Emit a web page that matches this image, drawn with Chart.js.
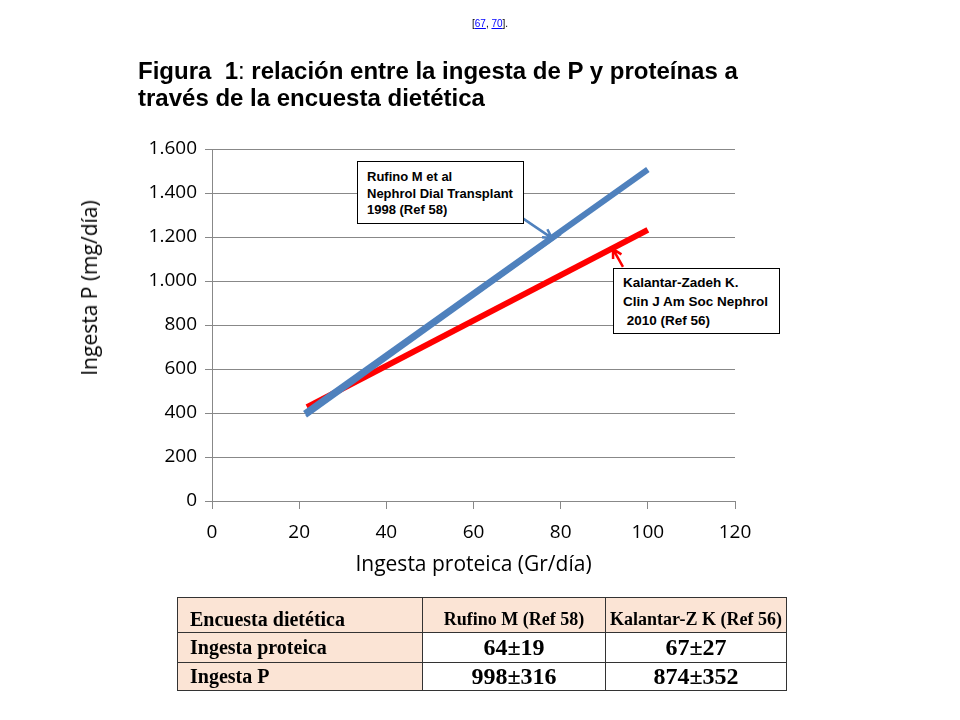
<!DOCTYPE html>
<html>
<head>
<meta charset="utf-8">
<script src="https://cdn.jsdelivr.net/npm/chart.js@4/dist/chart.umd.min.js"></script>
<style>
  body { margin: 0; background: #fff; width: 960px; height: 720px; position: relative; overflow: hidden; }
  #wrap { position: absolute; left: 0; top: 0; width: 960px; height: 720px; }
  .cite { position: absolute; left: 472px; top: 18px; font: 10px "Liberation Sans", Arial, sans-serif; color: #000; }
  .cite a { color: #00f; text-decoration: underline; }
  .title { position: absolute; left: 138px; top: 57px; font: bold 24px "Liberation Sans", Arial, sans-serif; line-height: 27px; color: #000; }
  .ytitle { position: absolute; left: 89px; top: 288px; transform: translate(-50%, -50%) rotate(-90deg); white-space: nowrap; font: 21px "Open Sans", sans-serif; color: #000; }
  .note { position: absolute; background: #fff; border: 1px solid #000; font: bold 13px "Liberation Sans", Arial, sans-serif; color: #000; box-sizing: border-box; }
  table { position: absolute; left: 177px; top: 597px; width: 610px; border-collapse: collapse; font-family: "Liberation Serif", "Times New Roman", serif; font-weight: bold; }
  td { border: 1px solid #333; padding: 0 4px; }
  .lab { font-size: 20px; padding-left: 12px; }
  .val { text-align: center; font-size: 24px; }
  .peach { background: #fbe4d5; }
</style>
</head>
<body>
<div id="wrap"><canvas id="c" width="960" height="720"></canvas></div>
<div class="cite">[<a>67</a>, <a>70</a>].</div>
<div class="title">Figura&nbsp; 1<span style="font-weight:normal">:</span> relación entre la ingesta de P y proteínas a<br>través de la encuesta dietética</div>
<div class="ytitle">Ingesta P (mg/día)</div>
<div class="note" style="left:357px;top:161px;width:167px;height:63px;padding:7px 0 0 9px;line-height:16.5px;">Rufino M et al<br>Nephrol Dial Transplant<br>1998 (Ref 58)</div>
<div class="note" style="left:613px;top:268px;width:167px;height:66px;padding:4px 0 0 9px;line-height:19px;font-size:13.5px;">Kalantar-Zadeh K.<br>Clin J Am Soc Nephrol<br>&nbsp;2010 (Ref 56)</div>
<table>
  <tr style="height:35px" class="peach">
    <td class="lab" style="padding-top:8px;width:228px">Encuesta dietética</td>
    <td style="text-align:center;font-size:18px;padding-top:8px;width:174px">Rufino M (Ref 58)</td>
    <td style="text-align:center;font-size:18px;padding-top:8px">Kalantar-Z K (Ref 56)</td>
  </tr>
  <tr style="height:30px">
    <td class="peach lab">Ingesta proteica</td>
    <td class="val">64±19</td>
    <td class="val">67±27</td>
  </tr>
  <tr style="height:28px">
    <td class="peach lab">Ingesta P</td>
    <td class="val">998±316</td>
    <td class="val">874±352</td>
  </tr>
</table>
<script>
// values
const rufinoX = [21.3, 100];
const rufinoY = [398, 1507];
const rufinoX2 = [21.6, 80];
const rufinoY2 = [385, 1215];
const kalantarX = [21.8, 100];
const kalantarY = [427, 1232];
const xTicks = [0, 20, 40, 60, 80, 100, 120];
const yTicks = [0, 200, 400, 600, 800, 1000, 1200, 1400, 1600];

// arrow anchors in data units (tip on the line, tail at the note box)
const arrows = [
  { from: [69.8, 1305], to: [78.0, 1195], color: '#4f81bd' },
  { from: [94.3, 1064], to: [92.0, 1145], color: '#ff0000' }
];

const pts = (xs, ys) => xs.map((x, i) => ({ x, y: ys[i] }));

const arrowPlugin = {
  id: 'arrows',
  afterDatasetsDraw(chart) {
    const { ctx, scales: { x, y } } = chart;
    arrows.forEach(a => {
      const x1 = x.getPixelForValue(a.from[0]), y1 = y.getPixelForValue(a.from[1]);
      const x2 = x.getPixelForValue(a.to[0]), y2 = y.getPixelForValue(a.to[1]);
      const ang = Math.atan2(y2 - y1, x2 - x1);
      ctx.save();
      ctx.strokeStyle = a.color;
      ctx.lineWidth = 2.5;
      ctx.beginPath();
      ctx.moveTo(x1, y1);
      ctx.lineTo(x2, y2);
      ctx.moveTo(x2 - 10 * Math.cos(ang - 0.5), y2 - 10 * Math.sin(ang - 0.5));
      ctx.lineTo(x2, y2);
      ctx.lineTo(x2 - 10 * Math.cos(ang + 0.5), y2 - 10 * Math.sin(ang + 0.5));
      ctx.stroke();
      ctx.restore();
    });
  }
};

new Chart(document.getElementById('c'), {
  type: 'scatter',
  data: {
    datasets: [
      { data: pts(rufinoX2, rufinoY2), showLine: true, borderColor: '#4f81bd', borderWidth: 3, pointRadius: 0 },
      { data: pts(rufinoX, rufinoY), showLine: true, borderColor: '#4f81bd', borderWidth: 6, pointRadius: 0 },
      { data: pts(kalantarX, kalantarY), showLine: true, borderColor: '#ff0000', borderWidth: 6, pointRadius: 0 }
    ]
  },
  options: {
    responsive: false,
    animation: false,
    events: [],
    layout: { padding: { left: 0, top: 149, right: 225, bottom: 138 } },
    plugins: { legend: { display: false }, tooltip: { enabled: false } },
    scales: {
      x: {
        type: 'linear', min: 0, max: 120,
        afterBuildTicks: s => { s.ticks = xTicks.map(v => ({ value: v })); },
        afterFit: s => { s.height = 81; },
        grid: { drawOnChartArea: false, drawTicks: true, tickLength: 8, color: '#888' },
        border: { color: '#888' },
        ticks: { color: '#000', padding: 12, font: { family: 'Open Sans', size: 19 } },
        title: { display: true, text: 'Ingesta proteica (Gr/día)', color: '#000', padding: 4, font: { family: 'Open Sans', size: 21 } }
      },
      y: {
        type: 'linear', min: 0, max: 1600,
        afterBuildTicks: s => { s.ticks = yTicks.map(v => ({ value: v })); },
        afterFit: s => { s.width = 212; },
        grid: { drawTicks: true, tickLength: 7, color: '#888' },
        border: { color: '#888' },
        ticks: {
          color: '#000', padding: 8, font: { family: 'Open Sans', size: 19 },
          callback: v => String(v).replace(/\B(?=(\d{3})+(?!\d))/g, '.')
        }
      }
    }
  },
  plugins: [arrowPlugin]
});
</script>
</body>
</html>
